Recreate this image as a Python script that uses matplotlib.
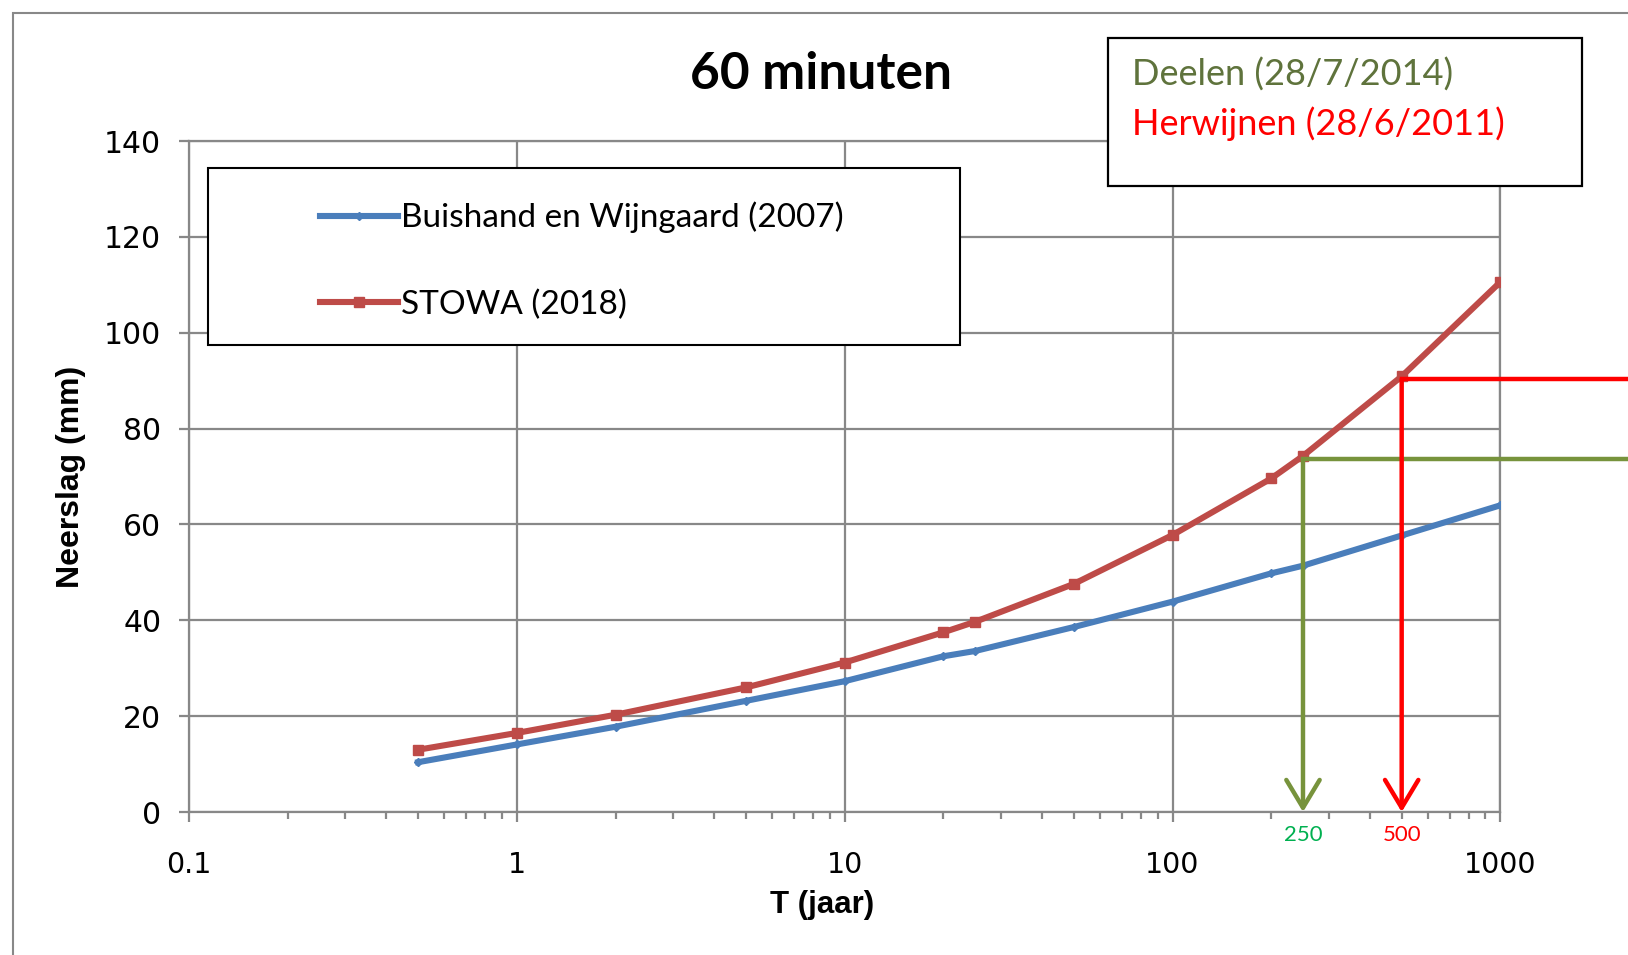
import matplotlib
matplotlib.use("Agg")
import matplotlib.pyplot as plt
from matplotlib.patches import Rectangle
from matplotlib.ticker import FixedLocator, LogLocator, NullFormatter

# ───── DATA ────────────────────────────────────────────────────
T_jaar = [0.5, 1, 2, 5, 10, 20, 25, 50, 100, 200, 250, 500, 1000]
buishand = [10.4, 14.1, 17.8, 23.2, 27.3, 32.5, 33.6, 38.6, 43.9, 49.8, 51.4, 57.7, 64.0]
stowa = [13.0, 16.5, 20.3, 26.0, 31.2, 37.5, 39.7, 47.6, 57.8, 69.6, 74.3, 90.9, 110.6]

event_T = [250, 500]
event_level = [73.6, 90.3]
event_names = ["Deelen (28/7/2014)", "Herwijnen (28/6/2011)"]

x_ticks = [0.1, 1, 10, 100, 1000]
x_labels = ["0.1", "1", "10", "100", "1000"]
y_ticks = [0, 20, 40, 60, 80, 100, 120, 140]
# ───────────────────────────────────────────────────────────────

BLUE = "#4A7EBB"
RED = "#BE4B48"
GRID = "#888888"
LINE_GREEN = "#77933C"
TXT_GREEN = "#5F733C"
LBL_GREEN = "#00B050"
BRIGHT_RED = "#FF0000"

fig = plt.figure(figsize=(16.28, 9.55), dpi=100)
ax = fig.add_axes([0.1161, 0.1497, 0.8055, 0.7026])

ax.plot(T_jaar, buishand, color=BLUE, lw=4.4, marker="D", markersize=4.5,
        label="Buishand en Wijngaard (2007)", zorder=3)
ax.plot(T_jaar, stowa, color=RED, lw=4.4, marker="s", markersize=7.5,
        label="STOWA (2018)", zorder=3)

# read-off lines with arrows down to the x axis
for t, lvl, col in zip(event_T, event_level, [LINE_GREEN, BRIGHT_RED]):
    ax.plot([t, 6000], [lvl, lvl], color=col, lw=3.2, clip_on=False, zorder=3.5)
    ax.annotate("", xy=(t, 0), xytext=(t, lvl),
                arrowprops=dict(arrowstyle="->, head_length=1.0, head_width=0.6",
                                color=col, lw=3.2, shrinkA=0, shrinkB=0,
                                mutation_scale=20),
                zorder=3.5, annotation_clip=False)

for t, col in zip(event_T, [LBL_GREEN, BRIGHT_RED]):
    ax.text(t, -0.034, str(t), transform=ax.get_xaxis_transform(),
            ha="center", va="center", color=col, fontsize=16, family="Lato")

ax.set_xscale("log")
ax.set_xlim(0.1, 1000)
ax.set_ylim(0, 140)
ax.xaxis.set_major_locator(FixedLocator(x_ticks))
ax.set_xticklabels(x_labels)
ax.xaxis.set_minor_locator(LogLocator(base=10, subs=range(2, 10)))
ax.xaxis.set_minor_formatter(NullFormatter())
ax.set_yticks(y_ticks)

ax.grid(True, which="major", color=GRID, lw=1.6)
ax.set_axisbelow(True)
for sp in ax.spines.values():
    sp.set_color(GRID)
    sp.set_linewidth(1.6)

ax.tick_params(axis="both", which="both", direction="out", color=GRID, width=1.6)
ax.tick_params(axis="x", which="major", length=7, pad=21, labelsize=20.5)
ax.tick_params(axis="x", which="minor", length=5)
ax.tick_params(axis="y", which="major", length=7, pad=13, labelsize=21.5)

ax.set_xlabel("T (jaar)", fontsize=22.5, fontweight="bold", family="Liberation Sans", va="center")
ax.xaxis.set_label_coords(0.4827, -0.1386)
ax.set_ylabel("Neerslag (mm)", fontsize=23, fontweight="bold", family="Liberation Sans", va="center")
ax.yaxis.set_label_coords(-0.0903, 0.5)

# legend box
ax.add_patch(Rectangle((0.0143, 0.6965), 0.574, 0.2635, transform=ax.transAxes,
                       facecolor="white", edgecolor="black", lw=1.5, zorder=4,
                       clip_on=False))
leg = ax.legend(loc="center left", bbox_to_anchor=(0.0997, 0.8215), frameon=False,
                borderpad=0, borderaxespad=0, handlelength=2.35, handletextpad=0.1,
                labelspacing=1.68, numpoints=1, prop={"family": "Lato", "size": 24})
leg.set_zorder(5)

# title
fig.text(0.5043, 0.9217, "60 minuten", ha="center", va="center",
         fontsize=37, fontweight="bold", family="Lato")

# event box top right
fig.add_artist(Rectangle((0.6805, 0.8053), 0.2915, 0.1545, transform=fig.transFigure,
                         facecolor="white", edgecolor="black", lw=1.6, zorder=2))
for name, yy, col in zip(event_names, [0.9217, 0.8706], [TXT_GREEN, BRIGHT_RED]):
    fig.text(0.6952, yy, name, ha="left", va="center", color=col,
             fontsize=26, family="Lato", zorder=3)

# outer chart border
fig.add_artist(Rectangle((0.0077, -0.2), 2.0, 1.1869, transform=fig.transFigure,
                         facecolor="none", edgecolor=GRID, lw=1.5, zorder=0))

fig.savefig("out.png", dpi=100)
